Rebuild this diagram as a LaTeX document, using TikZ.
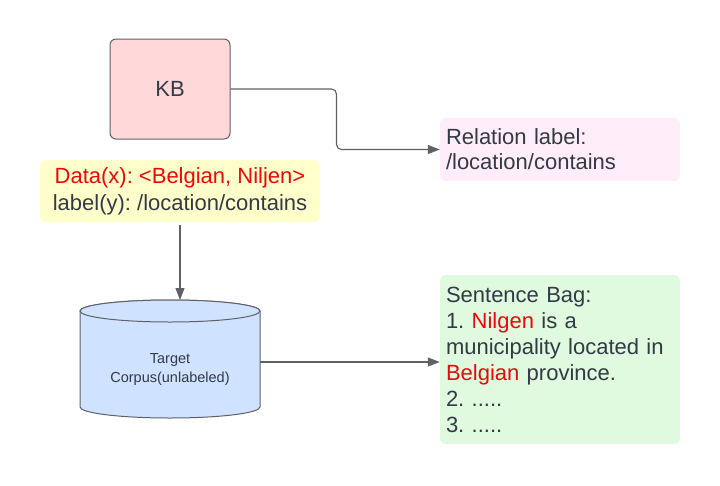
\documentclass[tikz,border=0pt]{standalone}
\usepackage{fontspec}
\setmainfont{Liberation Sans}
\usepackage{xcolor}
\definecolor{textgray}{HTML}{333A45}
\definecolor{linegray}{HTML}{5E6168}
\definecolor{kbpink}{HTML}{FFD9D9}
\definecolor{paleyellow}{HTML}{FFFFCC}
\definecolor{palepink}{HTML}{FFEEFA}
\definecolor{palegreen}{HTML}{E0FAE0}
\definecolor{paleblue}{HTML}{CFE2FF}
\definecolor{myred}{HTML}{E60A0A}
\usetikzlibrary{arrows.meta,positioning,calc}
\tikzset{
  box/.style={rounded corners=6pt, text=textgray, font=\fontsize{22}{26}\selectfont},
  note/.style={box, inner xsep=6pt, text width=228pt, align=left},
  conn/.style={-{Triangle[length=12pt,width=9pt]}, draw=linegray, line width=1.1pt, rounded corners=5pt},
  drum/.style={draw=linegray, line width=1pt, fill=paleblue},
}
\frenchspacing
\begin{document}
\begin{tikzpicture}[x=1pt,y=-1pt]
    \useasboundingbox (0,0) rectangle (720,485);

    \node[box, draw=linegray, line width=1pt, fill=kbpink, minimum width=120pt, minimum height=100pt] (kb) at (170,89) {KB};

    \node[box, fill=paleyellow, minimum width=280pt, minimum height=62pt, align=center,
          font=\fontsize{22}{27}\selectfont] (data) at (180,191)
        {\color{myred}Data(x): <Belgian, Niljen>\\label(y): /location/contains};

    \node[note, fill=palepink, minimum height=63pt, font=\fontsize{22}{25}\selectfont] (rel) at (560,149.5)
        {Relation label:\\/location/contains};

    % target corpus drum
    \path[drum] (80,311) -- (80,407) arc[start angle=180, end angle=360, x radius=90pt, y radius=11pt]
        -- (260,311) arc[start angle=0, end angle=180, x radius=90pt, y radius=11pt] -- cycle;
    \path[drum] (170,311) ellipse[x radius=90pt, y radius=11pt];
    \coordinate (corpustop) at (170,300);
    \coordinate (corpusright) at (260,362);
    \node[text=textgray, align=center, font=\fontsize{14.5}{19}\selectfont] (corpus) at (170,370)
        {Target\\Corpus(unlabeled)};

    \node[note, fill=palegreen, minimum height=169pt] (bag) at (560,359.5)
        {Sentence Bag:\\1. {\color{myred}Nilgen} is a\\municipality located in\\{\color{myred}Belgian} province.\\2. .....\\3. .....};

    % connectors
    \draw[conn] (kb.east) -- ++(106,0) |- (rel.west);
    \draw[conn, shorten <=3pt] (data.south) -- (data.south |- corpustop);
    \draw[conn] (corpusright) -- (corpusright -| bag.west);
\end{tikzpicture}
\end{document}
